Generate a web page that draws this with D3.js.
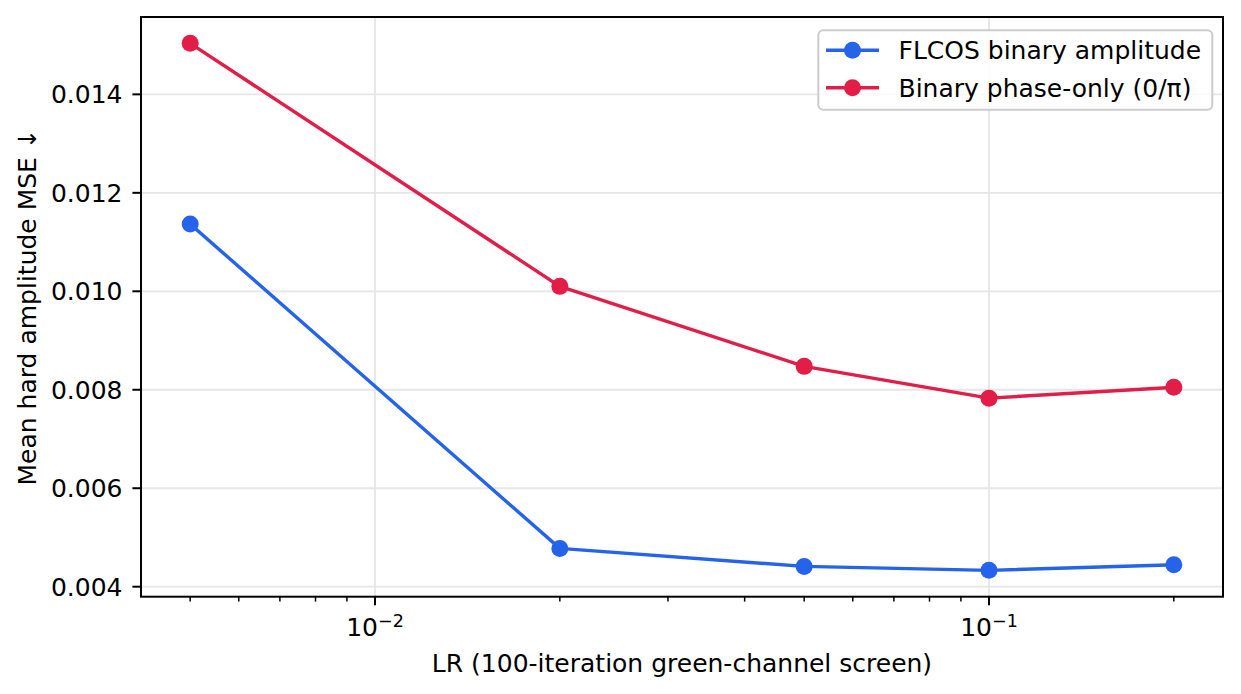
<!DOCTYPE html>
<html>
<head>
<meta charset="utf-8">
<script src="https://cdn.jsdelivr.net/npm/d3@7/dist/d3.min.js"></script>
<style>
  html, body { margin: 0; padding: 0; background: #fff; }
  svg { display: block; }
  text { font-family: "DejaVu Sans", sans-serif; fill: #000; }
</style>
</head>
<body>
<svg id="chart" width="1241" height="694"></svg>
<script>
// ---- data ----
const learningRates = [0.005, 0.02, 0.05, 0.1, 0.2];
const flcosAmplitude = [0.011366, 0.004778, 0.004412, 0.004332, 0.004446];
const binaryPhase = [0.015036, 0.010100, 0.008475, 0.007830, 0.008050];
const seriesNames = ["FLCOS binary amplitude", "Binary phase-only (0/\u03c0)"];
const seriesColors = ["#2563eb", "#e11d48"];
const yTicks = [0.004, 0.006, 0.008, 0.010, 0.012, 0.014];
const xMajorTicks = [0.01, 0.1];
const xMajorLabels = [["10", "\u22122"], ["10", "\u22121"]];
const xLabel = "LR (100-iteration green-channel screen)";
const yLabel = "Mean hard amplitude MSE \u2193";

// ---- layout ----
const W = 1241, H = 694;
const plot = { left: 141, top: 17, right: 1223, bottom: 596.7 };
const fs = 25;

const svg = d3.select("#chart");
svg.append("rect").attr("width", W).attr("height", H).attr("fill", "#fff");

// scales with matplotlib-like 5% margins
const lx = learningRates.map(Math.log10);
const lmin = d3.min(lx), lmax = d3.max(lx), lpad = (lmax - lmin) * 0.05;
const x = d3.scaleLog()
  .domain([Math.pow(10, lmin - lpad), Math.pow(10, lmax + lpad)])
  .range([plot.left, plot.right]);
const allY = flcosAmplitude.concat(binaryPhase);
const ymin = d3.min(allY), ymax = d3.max(allY), ypad = (ymax - ymin) * 0.05;
const y = d3.scaleLinear()
  .domain([ymin - ypad, ymax + ypad])
  .range([plot.bottom, plot.top]);

// grid
const grid = svg.append("g").attr("stroke", "#e6e6e6").attr("stroke-width", 1.8);
xMajorTicks.forEach(t => {
  grid.append("line").attr("x1", x(t)).attr("x2", x(t))
    .attr("y1", plot.top).attr("y2", plot.bottom);
});
yTicks.forEach(t => {
  grid.append("line").attr("x1", plot.left).attr("x2", plot.right)
    .attr("y1", y(t)).attr("y2", y(t));
});

// series
const seriesData = [flcosAmplitude, binaryPhase];
const line = d3.line().x(d => x(d[0])).y(d => y(d[1]));
seriesData.forEach((vals, i) => {
  const pts = learningRates.map((lr, j) => [lr, vals[j]]);
  const g = svg.append("g");
  g.append("path").attr("d", line(pts)).attr("fill", "none")
    .attr("stroke", seriesColors[i]).attr("stroke-width", 3.4)
    .attr("stroke-linejoin", "round").attr("stroke-linecap", "square");
  g.selectAll("circle").data(pts).enter().append("circle")
    .attr("cx", d => x(d[0])).attr("cy", d => y(d[1])).attr("r", 8.5)
    .attr("fill", seriesColors[i]);
});

// frame (spines)
svg.append("rect").attr("x", plot.left).attr("y", plot.top)
  .attr("width", plot.right - plot.left).attr("height", plot.bottom - plot.top)
  .attr("fill", "none").attr("stroke", "#000").attr("stroke-width", 2);

// y axis ticks and labels
const yAxis = svg.append("g");
yTicks.forEach(t => {
  yAxis.append("line").attr("x1", plot.left - 8.6).attr("x2", plot.left)
    .attr("y1", y(t)).attr("y2", y(t)).attr("stroke", "#000").attr("stroke-width", 2);
  yAxis.append("text").attr("x", plot.left - 18.5).attr("y", y(t) + 0.364 * fs)
    .attr("text-anchor", "end").attr("font-size", fs).text(d3.format(".3f")(t));
});

// x axis ticks: major and minor (log)
const xAxis = svg.append("g");
const [d0, d1] = x.domain();
const minorTicks = [];
for (let e = Math.floor(Math.log10(d0)); e <= Math.ceil(Math.log10(d1)); e++) {
  for (let m = 2; m <= 9; m++) {
    const v = m * Math.pow(10, e);
    if (v >= d0 && v <= d1) minorTicks.push(v);
  }
}
minorTicks.forEach(t => {
  xAxis.append("line").attr("x1", x(t)).attr("x2", x(t))
    .attr("y1", plot.bottom).attr("y2", plot.bottom + 4.9)
    .attr("stroke", "#000").attr("stroke-width", 1.5);
});
xMajorTicks.forEach((t, i) => {
  xAxis.append("line").attr("x1", x(t)).attr("x2", x(t))
    .attr("y1", plot.bottom).attr("y2", plot.bottom + 8.6)
    .attr("stroke", "#000").attr("stroke-width", 2);
  const txt = xAxis.append("text").attr("x", x(t)).attr("y", 636)
    .attr("text-anchor", "middle").attr("font-size", fs);
  txt.append("tspan").text(xMajorLabels[i][0]);
  txt.append("tspan").attr("font-size", fs * 0.7).attr("dy", -9.5).text(xMajorLabels[i][1]);
});

// axis labels
svg.append("text").attr("x", (plot.left + plot.right) / 2).attr("y", 672)
  .attr("text-anchor", "middle").attr("font-size", fs).text(xLabel);
svg.append("text")
  .attr("transform", `translate(36, ${(plot.top + plot.bottom) / 2}) rotate(-90)`)
  .attr("text-anchor", "middle").attr("font-size", fs).text(yLabel);

// legend
const lg = svg.append("g");
lg.append("rect").attr("x", 818.3).attr("y", 30.3).attr("width", 394).attr("height", 79.4)
  .attr("rx", 5).attr("ry", 5).attr("fill", "#fff").attr("fill-opacity", 0.8)
  .attr("stroke", "#cccccc").attr("stroke-width", 2);
const rowsY = [50.3, 87.7];
seriesNames.forEach((name, i) => {
  lg.append("line").attr("x1", 826).attr("x2", 879).attr("y1", rowsY[i]).attr("y2", rowsY[i])
    .attr("stroke", seriesColors[i]).attr("stroke-width", 3.4);
  lg.append("circle").attr("cx", 852.5).attr("cy", rowsY[i]).attr("r", 8.5)
    .attr("fill", seriesColors[i]);
  lg.append("text").attr("x", 898.5).attr("y", rowsY[i] + 0.364 * fs)
    .attr("font-size", fs).text(name);
});
</script>
</body>
</html>
